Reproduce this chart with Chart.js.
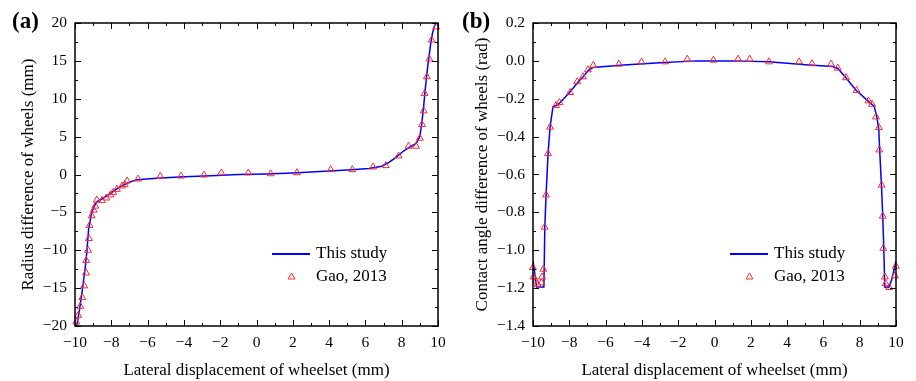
<!DOCTYPE html>
<html>
<head>
<meta charset="utf-8">
<script src="https://cdn.jsdelivr.net/npm/chart.js@4/dist/chart.umd.min.js"></script>
<style>
  html, body { margin: 0; padding: 0; background: #fff; }
  .panel { position: absolute; top: 0; width: 458px; height: 381px; }
</style>
</head>
<body>
<div class="panel" style="left:0"><canvas id="chartA" width="458" height="381"></canvas></div>
<div class="panel" style="left:458px"><canvas id="chartB" width="458" height="381"></canvas></div>
<script>
// (a) radius difference of wheels
const radiusLineX = [-9.9, -9.75, -9.6, -9.45, -9.35, -9.25, -9.1, -8.95, -8.8, -8.5, -8.1, -7.7, -7.3, -7.0, -6.6, -5.5, -4, -2.5, -1, 0.5, 2, 3.5, 5, 6.2, 6.9, 7.3, 7.7, 8.1, 8.5, 8.8, 9.0, 9.1, 9.2, 9.3, 9.4, 9.5, 9.6, 9.7, 9.8, 9.9];
const radiusLineY = [-20, -17.8, -15.3, -12.6, -10.3, -7.2, -5.2, -4.2, -3.6, -3.2, -2.6, -1.9, -1.35, -1.0, -0.7, -0.5, -0.3, -0.15, 0, 0.08, 0.2, 0.38, 0.6, 0.8, 1.1, 1.6, 2.3, 3.1, 3.7, 4.1, 5.0, 6.6, 8.8, 11.3, 13.6, 15.5, 17.3, 18.7, 19.6, 20];
const radiusGaoX = [-9.93, -9.82, -9.71, -9.6, -9.49, -9.39, -9.38, -9.28, -9.23, -9.2, -9.08, -8.97, -8.88, -8.8, -8.51, -8.27, -8.05, -7.9, -7.69, -7.41, -7.26, -7.13, -6.53, -5.3, -4.16, -2.89, -1.94, -0.45, 0.78, 2.23, 4.09, 5.28, 6.42, 7.13, 7.83, 8.38, 8.79, 9.0, 9.12, 9.21, 9.26, 9.39, 9.52, 9.65, 9.9];
const radiusGaoY = [-19.47, -18.6, -17.4, -16.25, -14.7, -13.0, -11.36, -10.0, -8.45, -6.73, -5.45, -4.7, -4.17, -3.37, -3.42, -3.1, -2.7, -2.36, -1.96, -1.52, -1.3, -0.86, -0.6, -0.24, -0.2, -0.07, 0.2, 0.2, 0.1, 0.24, 0.64, 0.64, 0.99, 1.17, 2.45, 3.73, 3.73, 4.79, 6.6, 8.4, 10.7, 12.9, 15.24, 17.75, 19.47];

// (b) contact angle difference of wheels
const angleLineX = [-10, -9.8, -9.4, -9.35, -9.28, -9.17, -9.06, -8.9, -8.7, -8.5, -8, -7.5, -7.2, -6.95, -6.7, -5, -3, -1, 1, 3, 5, 6.5, 6.8, 7.25, 7.8, 8.5, 8.8, 8.95, 9.05, 9.1, 9.2, 9.27, 9.33, 9.38, 9.6, 9.75, 9.9, 10];
const angleLineY = [-1.056, -1.194, -1.194, -0.88, -0.71, -0.49, -0.35, -0.242, -0.235, -0.22, -0.168, -0.11, -0.08, -0.05, -0.035, -0.022, -0.01, 0, 0, -0.005, -0.02, -0.03, -0.04, -0.09, -0.155, -0.215, -0.24, -0.3, -0.36, -0.47, -0.66, -0.82, -1.0, -1.194, -1.196, -1.16, -1.1, -1.056];
const angleGaoX = [-10.0, -9.97, -9.84, -9.75, -9.54, -9.5, -9.43, -9.36, -9.28, -9.17, -9.06, -8.73, -8.54, -7.96, -7.56, -7.25, -6.97, -6.68, -5.27, -4.02, -2.72, -1.5, -0.06, 1.3, 1.94, 3.0, 4.66, 5.37, 6.42, 6.79, 7.25, 7.83, 8.48, 8.68, 8.9, 9.06, 9.08, 9.21, 9.27, 9.3, 9.39, 9.43, 9.63, 9.94, 9.99];
const angleGaoY = [-1.091, -1.141, -1.163, -1.18, -1.172, -1.141, -1.10, -0.878, -0.708, -0.49, -0.35, -0.236, -0.22, -0.167, -0.11, -0.084, -0.047, -0.024, -0.017, -0.006, -0.005, 0.009, 0.004, 0.009, 0.009, -0.005, -0.005, -0.015, -0.017, -0.038, -0.089, -0.156, -0.211, -0.229, -0.296, -0.352, -0.47, -0.656, -0.82, -0.99, -1.141, -1.176, -1.197, -1.135, -1.084];

const seriesLabels = ['This study', 'Gao, 2013'];
const xTitle = 'Lateral displacement of wheelset (mm)';

const SERIF = "'Liberation Serif', 'Times New Roman', serif";
const BLUE = '#0000ff';
const RED = '#ff2a2a';
const MARK_R = 4;

const zip = (xs, ys) => xs.map((x, i) => ({ x, y: ys[i] }));
const minus = s => s.replace('-', '\u2212');

// frame + inward ticks on all four sides
const framePlugin = {
  id: 'frame',
  afterDatasetsDraw(chart, args, opts) {
    const { ctx, chartArea: a, scales: { x, y } } = chart;
    ctx.save();
    ctx.strokeStyle = '#000';
    ctx.lineWidth = 1;
    const ticks = (scale, step, len) => {
      const n = Math.round((scale.max - scale.min) / step);
      for (let i = 0; i <= n; i++) {
        const p = Math.round(scale.getPixelForValue(scale.min + i * step)) + 0.5;
        ctx.beginPath();
        if (scale.isHorizontal()) {
          ctx.moveTo(p, a.bottom); ctx.lineTo(p, a.bottom - len);
          ctx.moveTo(p, a.top); ctx.lineTo(p, a.top + len);
        } else {
          ctx.moveTo(a.left, p); ctx.lineTo(a.left + len, p);
          ctx.moveTo(a.right, p); ctx.lineTo(a.right - len, p);
        }
        ctx.stroke();
      }
    };
    ticks(x, opts.xStep, 6);
    ticks(x, opts.xStep / 2, 3);
    ticks(y, opts.yStep, 6);
    ticks(y, opts.yStep / 2, 3);
    ctx.lineWidth = 1.5;
    ctx.strokeRect(a.left, a.top, a.right - a.left, a.bottom - a.top);
    ctx.restore();
  },
};

// legend inside the plot + panel letter
const legendPlugin = {
  id: 'panelLegend',
  afterDraw(chart, args, opts) {
    const { ctx, chartArea: a } = chart;
    const ds = chart.data.datasets;
    const x0 = a.right - 166;
    const y0 = a.top + 231;
    ctx.save();
    ctx.strokeStyle = ds[0].borderColor;
    ctx.lineWidth = 2;
    ctx.beginPath();
    ctx.moveTo(x0, y0); ctx.lineTo(x0 + 38, y0);
    ctx.stroke();
    ctx.strokeStyle = ds[1].borderColor;
    ctx.fillStyle = 'rgba(255,255,255,0)';
    ctx.lineWidth = 1;
    Chart.helpers.drawPoint(ctx, { pointStyle: 'triangle', radius: MARK_R, borderWidth: 1, rotation: 0 }, x0 + 19.5, y0 + 23);
    ctx.fillStyle = '#000';
    ctx.font = '17px ' + SERIF;
    ctx.textBaseline = 'middle';
    ctx.fillText(ds[0].label, x0 + 44, y0);
    ctx.fillText(ds[1].label, x0 + 44, y0 + 23);
    ctx.font = 'bold 23px ' + SERIF;
    ctx.fillText(opts.letter, opts.letterX, 22);
    ctx.restore();
  },
};

function makePanel(id, cfg) {
  const tickFont = { family: SERIF, size: 15.5 };
  const titleFont = { family: SERIF, size: 17 };
  return new Chart(document.getElementById(id), {
    type: 'scatter',
    data: {
      datasets: [
        {
          label: seriesLabels[0],
          data: zip(cfg.lineX, cfg.lineY),
          showLine: true,
          borderColor: BLUE,
          borderWidth: 1.5,
          pointRadius: 0,
          order: 2,
        },
        {
          label: seriesLabels[1],
          data: zip(cfg.gaoX, cfg.gaoY),
          showLine: false,
          pointStyle: 'triangle',
          pointRadius: MARK_R,
          borderColor: RED,
          backgroundColor: 'rgba(255,255,255,0)',
          borderWidth: 1,
          order: 1,
          clip: false,
        },
      ],
    },
    options: {
      responsive: false,
      animation: false,
      devicePixelRatio: 1,
      events: [],
      layout: { padding: { left: cfg.padLeft, top: 23, right: 20, bottom: 0 } },
      plugins: {
        legend: { display: false },
        tooltip: { enabled: false },
        frame: { xStep: 2, yStep: cfg.yStep },
        panelLegend: { letter: cfg.letter, letterX: cfg.letterX },
      },
      scales: {
        x: {
          type: 'linear',
          min: -10,
          max: 10,
          grid: { display: false },
          border: { display: false },
          ticks: {
            stepSize: 2, autoSkip: false, maxRotation: 0, padding: 0,
            color: '#000', font: tickFont,
            callback: v => minus(String(v)),
          },
          title: { display: true, text: xTitle, color: '#000', font: titleFont, padding: { top: 0, bottom: 0 } },
          afterFit(scale) { scale.height = 55; },
        },
        y: {
          type: 'linear',
          min: cfg.yMin,
          max: cfg.yMax,
          grid: { display: false },
          border: { display: false },
          ticks: {
            stepSize: cfg.yStep, autoSkip: false, padding: 0,
            color: '#000', font: tickFont,
            callback: v => {
              const val = Math.abs(v) < 1e-9 ? 0 : v;
              return minus(val.toFixed(cfg.yDigits));
            },
          },
          title: { display: true, text: cfg.yTitle, color: '#000', font: titleFont, padding: { top: 3, bottom: 0 } },
          afterFit(scale) { scale.width = 75 - cfg.padLeft; },
        },
      },
    },
    plugins: [framePlugin, legendPlugin],
  });
}

makePanel('chartA', {
  lineX: radiusLineX, lineY: radiusLineY, gaoX: radiusGaoX, gaoY: radiusGaoY,
  yMin: -20, yMax: 20, yStep: 5, yDigits: 0,
  yTitle: 'Radius difference of wheels (mm)',
  padLeft: 15, letter: '(a)', letterX: 12,
});

makePanel('chartB', {
  lineX: angleLineX, lineY: angleLineY, gaoX: angleGaoX, gaoY: angleGaoY,
  yMin: -1.4, yMax: 0.2, yStep: 0.2, yDigits: 1,
  yTitle: 'Contact angle difference of wheels (rad)',
  padLeft: 11, letter: '(b)', letterX: 4,
});
</script>
</body>
</html>
